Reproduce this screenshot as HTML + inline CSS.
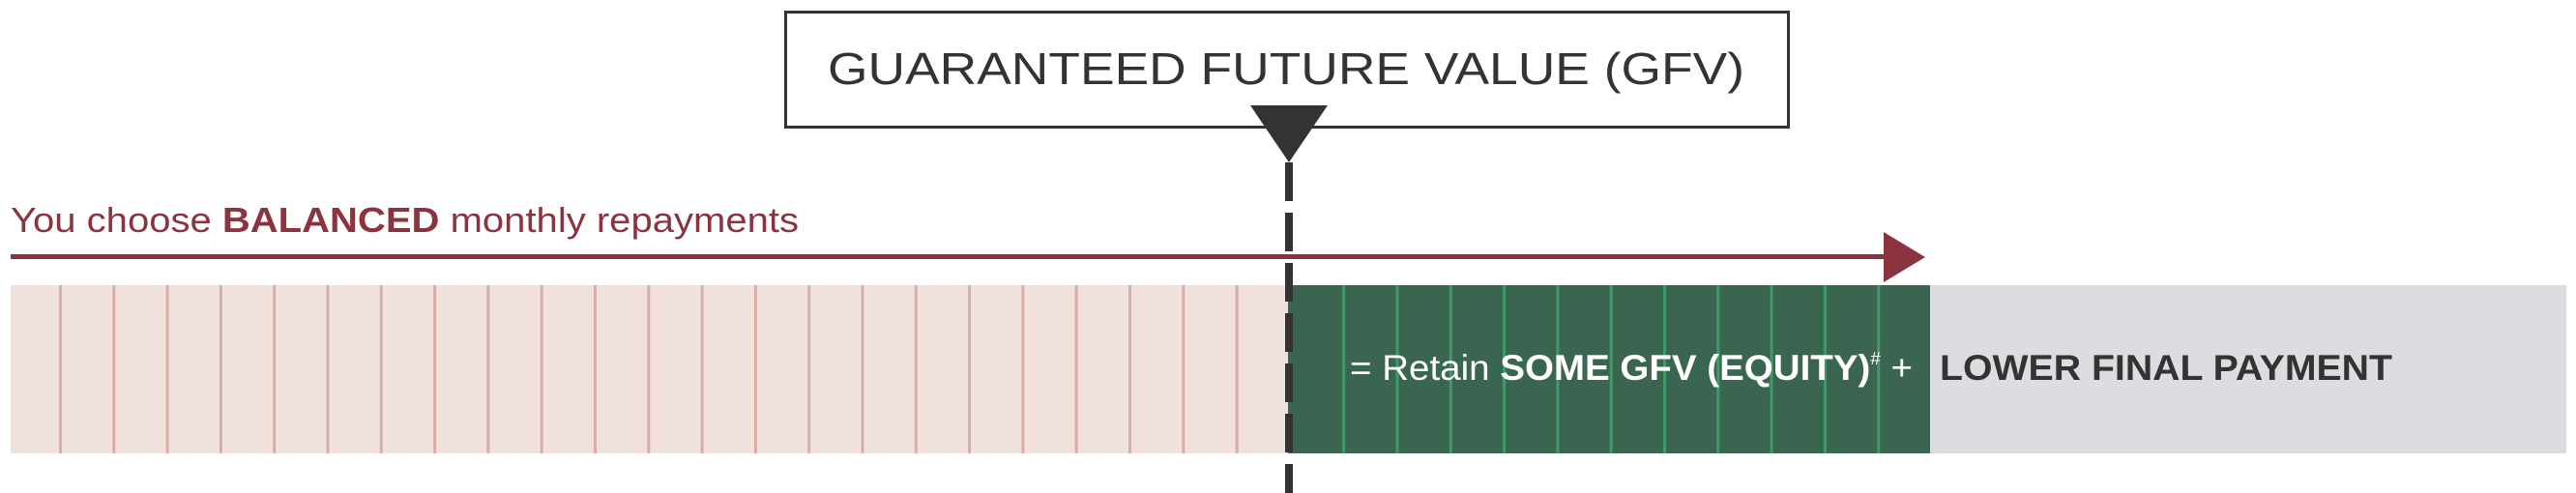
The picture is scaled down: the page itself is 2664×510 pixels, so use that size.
<!DOCTYPE html>
<html><head><meta charset="utf-8"><style>html,body{margin:0;padding:0;background:#fff;width:2664px;height:510px;overflow:hidden}</style></head>
<body>
<svg width="2664" height="510" viewBox="0 0 2664 510" xmlns="http://www.w3.org/2000/svg" font-family="Liberation Sans, sans-serif">
<rect x="0" y="0" width="2664" height="510" fill="#fff"/>
<!-- bars -->
<rect x="11" y="295" width="1321" height="174" fill="#f0e1dd"/>
<rect x="1332" y="295" width="664" height="174" fill="#3a6651"/>
<rect x="1996" y="295" width="658" height="174" fill="#dcdde0"/>
<g stroke="#d8aca7" stroke-width="3">
<line x1="62.5" y1="295" x2="62.5" y2="469"/><line x1="117.8" y1="295" x2="117.8" y2="469"/><line x1="173.1" y1="295" x2="173.1" y2="469"/><line x1="228.4" y1="295" x2="228.4" y2="469"/><line x1="283.7" y1="295" x2="283.7" y2="469"/><line x1="339" y1="295" x2="339" y2="469"/><line x1="394.3" y1="295" x2="394.3" y2="469"/><line x1="449.6" y1="295" x2="449.6" y2="469"/><line x1="504.9" y1="295" x2="504.9" y2="469"/><line x1="560.2" y1="295" x2="560.2" y2="469"/><line x1="615.5" y1="295" x2="615.5" y2="469"/><line x1="670.8" y1="295" x2="670.8" y2="469"/><line x1="726.1" y1="295" x2="726.1" y2="469"/><line x1="781.4" y1="295" x2="781.4" y2="469"/><line x1="836.7" y1="295" x2="836.7" y2="469"/><line x1="892" y1="295" x2="892" y2="469"/><line x1="947.3" y1="295" x2="947.3" y2="469"/><line x1="1002.6" y1="295" x2="1002.6" y2="469"/><line x1="1057.9" y1="295" x2="1057.9" y2="469"/><line x1="1113.2" y1="295" x2="1113.2" y2="469"/><line x1="1168.5" y1="295" x2="1168.5" y2="469"/><line x1="1223.8" y1="295" x2="1223.8" y2="469"/><line x1="1279.1" y1="295" x2="1279.1" y2="469"/>
</g>
<g stroke="#3f9a6a" stroke-width="3">
<line x1="1389.7" y1="295" x2="1389.7" y2="469"/><line x1="1445" y1="295" x2="1445" y2="469"/><line x1="1500.3" y1="295" x2="1500.3" y2="469"/><line x1="1555.6" y1="295" x2="1555.6" y2="469"/><line x1="1610.9" y1="295" x2="1610.9" y2="469"/><line x1="1666.2" y1="295" x2="1666.2" y2="469"/><line x1="1721.5" y1="295" x2="1721.5" y2="469"/><line x1="1776.8" y1="295" x2="1776.8" y2="469"/><line x1="1832.1" y1="295" x2="1832.1" y2="469"/><line x1="1887.4" y1="295" x2="1887.4" y2="469"/><line x1="1942.7" y1="295" x2="1942.7" y2="469"/>
</g>
<!-- arrow -->
<rect x="11" y="263" width="1940" height="5" fill="#8b3440"/>
<polygon points="1948,240 1991,266 1948,292" fill="#8b3440"/>
<text x="11" y="240" font-size="36" fill="#8b3440" textLength="815" lengthAdjust="spacingAndGlyphs">You choose <tspan font-weight="bold">BALANCED</tspan> monthly repayments</text>
<!-- box -->
<rect x="812.5" y="12.5" width="1037" height="119" fill="#fff" stroke="#333" stroke-width="3"/>
<text x="856" y="87" font-size="46" fill="#333" textLength="948" lengthAdjust="spacingAndGlyphs">GUARANTEED FUTURE VALUE (GFV)</text>
<!-- dashed line -->
<line x1="1333" y1="168" x2="1333" y2="510" stroke="#333" stroke-width="8" stroke-dasharray="40,12"/>
<polygon points="1293,109 1373,109 1333,168" fill="#333"/>
<!-- texts in bars -->
<text x="1396" y="393" font-size="37" fill="#fff" textLength="582" lengthAdjust="spacingAndGlyphs">= Retain <tspan font-weight="bold">SOME GFV (EQUITY)</tspan><tspan font-size="18" dy="-16">#</tspan><tspan dy="16"> +</tspan></text>
<text x="2006" y="393" font-size="37" fill="#333" font-weight="bold" textLength="468" lengthAdjust="spacingAndGlyphs">LOWER FINAL PAYMENT</text>
</svg>
</body></html>
